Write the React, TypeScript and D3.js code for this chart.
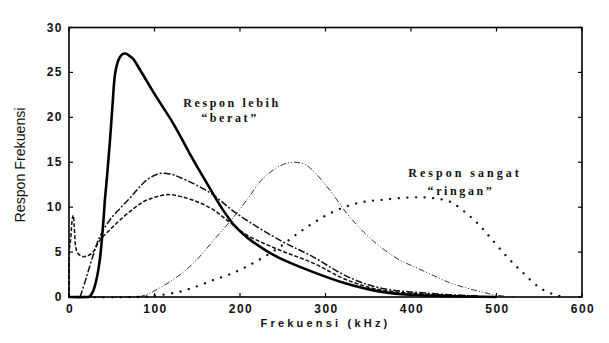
import React from "react";
import * as d3 from "d3";

// ---- data (kHz, response) ----
const solidF = [0, 20, 24, 28, 32, 36, 40, 42, 45, 48, 51, 54, 58, 62, 66, 70, 75, 83, 102, 122, 141, 161, 180, 195, 210, 230, 247, 285, 324, 364, 400, 450, 500];
const solidV = [0, 0, 0.05, 0.6, 1.9, 4.1, 8.2, 10.8, 14, 17.5, 21.5, 24.9, 26.4, 27.0, 27.1, 26.9, 26.5, 25.3, 22.3, 19.3, 16.0, 12.7, 9.7, 7.8, 6.5, 5.2, 4.3, 2.8, 1.5, 0.6, 0.25, 0.08, 0];

const dashDotF = [13, 20.7, 28.4, 36, 48, 60, 72, 85, 95, 106, 118, 130, 165, 196, 247, 285, 325, 364, 422, 480];
const dashDotV = [0, 2.3, 4.7, 6.7, 8.6, 9.9, 11.1, 12.5, 13.3, 13.75, 13.7, 13.3, 11.6, 9.3, 6.3, 4.5, 2.3, 1.0, 0.4, 0.1];

const dashedF = [0, 0.5, 2, 4, 5, 6, 8, 10, 16, 22, 28, 36, 48, 60, 75, 87, 100, 115, 130, 150, 169, 188, 208, 247, 285, 325, 364, 420, 480];
const dashedV = [0, 5.2, 6.5, 8.8, 9.1, 8, 5.5, 4.9, 4.5, 4.6, 5.0, 6.3, 7.5, 8.6, 9.8, 10.6, 11.1, 11.4, 11.2, 10.6, 9.7, 8.3, 6.9, 5.2, 3.8, 1.9, 0.8, 0.3, 0.05];

const thinF = [0, 60, 85, 106, 130, 150, 169, 190, 208, 227, 247, 262, 275, 285, 305, 325, 345, 364, 387, 403, 426, 445, 465, 485, 500, 520];
const thinV = [0, 0, 0.1, 1.0, 2.5, 4.2, 6.3, 8.6, 10.8, 13.2, 14.6, 15.0, 14.8, 14.1, 11.9, 9.3, 7.2, 5.6, 4.1, 3.4, 2.4, 1.6, 1.0, 0.5, 0.2, 0];

const dottedF = [0, 80, 105, 130, 150, 169, 190, 208, 227, 247, 265, 285, 305, 325, 345, 364, 387, 410, 426, 446, 465, 480, 492, 512, 531, 551, 570, 580];
const dottedV = [0, 0, 0.2, 0.6, 1.2, 1.9, 2.6, 3.4, 4.4, 5.6, 6.9, 8.2, 9.3, 10.1, 10.6, 10.8, 11.0, 11.1, 11.0, 10.6, 9.3, 8.0, 6.7, 4.5, 2.7, 1.0, 0.2, 0];

const xTicks = [0, 100, 200, 300, 400, 500, 600];
const yTicks = [0, 5, 10, 15, 20, 25, 30];

const xTitle = "Frekuensi (kHz)";
const yTitle = "Respon Frekuensi";
const noteHeavy = ["Respon lebih", "\u201Cberat\u201D"];
const noteLight = ["Respon sangat", "\u201Cringan\u201D"];

export default function App() {
  const W = 609, H = 343;
  const x = d3.scaleLinear().domain([0, 600]).range([69, 582]);
  const y = d3.scaleLinear().domain([0, 30]).range([297, 27.5]);
  const line = d3
    .line<[number, number]>()
    .x((d) => x(d[0]))
    .y((d) => y(d[1]))
    .curve(d3.curveCatmullRom.alpha(0.5));
  const path = (f: number[], v: number[]) => line(f.map((fi, i) => [fi, v[i]] as [number, number])) || "";

  const [x0, x1] = x.range();
  const [y0, y1] = y.range();
  const tickFont = "'Liberation Sans', Arial, sans-serif";
  const serif = "'Liberation Serif', 'Times New Roman', serif";

  return (
    <svg width={W} height={H} style={{ position: "absolute", left: 0, top: 0, background: "#fff" }}>
      {/* curves */}
      <path d={path(dottedF, dottedV)} fill="none" stroke="#111" strokeWidth={2.3} strokeDasharray="0.1 8.5" strokeLinecap="round" />
      <path d={path(thinF, thinV)} fill="none" stroke="#333" strokeWidth={1} strokeDasharray="6 2 1 2 1 2" />
      <path d={path(dashedF, dashedV)} fill="none" stroke="#111" strokeWidth={1.5} strokeDasharray="4 2" />
      <path d={path(dashDotF, dashDotV)} fill="none" stroke="#111" strokeWidth={1.5} strokeDasharray="7 2 2 2" />
      <path d={path(solidF, solidV)} fill="none" stroke="#000" strokeWidth={2.6} strokeLinejoin="round" />

      {/* frame */}
      <rect x={x0} y={y1} width={x1 - x0} height={y0 - y1} fill="none" stroke="#000" strokeWidth={1.6} />

      {/* x ticks */}
      {xTicks.map((t) => (
        <g key={"x" + t}>
          <line x1={x(t)} x2={x(t)} y1={y0} y2={y0 - 4} stroke="#000" strokeWidth={1.2} />
          <line x1={x(t)} x2={x(t)} y1={y1} y2={y1 + 4} stroke="#000" strokeWidth={1.2} />
          <text x={x(t) + 1} y={313} textAnchor="middle" fontFamily={tickFont} fontWeight="bold" fontSize={12} letterSpacing={1.5} fill="#111">
            {t}
          </text>
        </g>
      ))}
      {/* y ticks */}
      {yTicks.map((t) => (
        <g key={"y" + t}>
          <line x1={x0} x2={x0 + 4} y1={y(t)} y2={y(t)} stroke="#000" strokeWidth={1.2} />
          <line x1={x1} x2={x1 - 4} y1={y(t)} y2={y(t)} stroke="#000" strokeWidth={1.2} />
          <text x={63} y={y(t) + 4} textAnchor="end" fontFamily={tickFont} fontWeight="bold" fontSize={12} letterSpacing={1.5} fill="#111">
            {t}
          </text>
        </g>
      ))}

      {/* axis titles */}
      <text x={(x0 + x1) / 2} y={327} textAnchor="middle" fontFamily={tickFont} fontWeight="bold" fontSize={11} letterSpacing={3.2} fill="#111">
        {xTitle}
      </text>
      <text
        transform={`translate(25,${165}) rotate(-90)`}
        textAnchor="middle"
        fontFamily={tickFont}
        fontSize={14}
        textLength={115}
        lengthAdjust="spacingAndGlyphs"
        fill="#111"
      >
        {yTitle}
      </text>

      {/* annotations */}
      <text x={232} y={107} textAnchor="middle" fontFamily={serif} fontWeight="bold" fontSize={12} letterSpacing={2.6} fill="#111">
        {noteHeavy[0]}
      </text>
      <text x={230} y={122} textAnchor="middle" fontFamily={serif} fontWeight="bold" fontSize={12} letterSpacing={2.6} fill="#111">
        {noteHeavy[1]}
      </text>
      <text x={465} y={177} textAnchor="middle" fontFamily={serif} fontWeight="bold" fontSize={12} letterSpacing={3} fill="#111">
        {noteLight[0]}
      </text>
      <text x={461} y={195} textAnchor="middle" fontFamily={serif} fontWeight="bold" fontSize={12} letterSpacing={2.6} fill="#111">
        {noteLight[1]}
      </text>
    </svg>
  );
}
